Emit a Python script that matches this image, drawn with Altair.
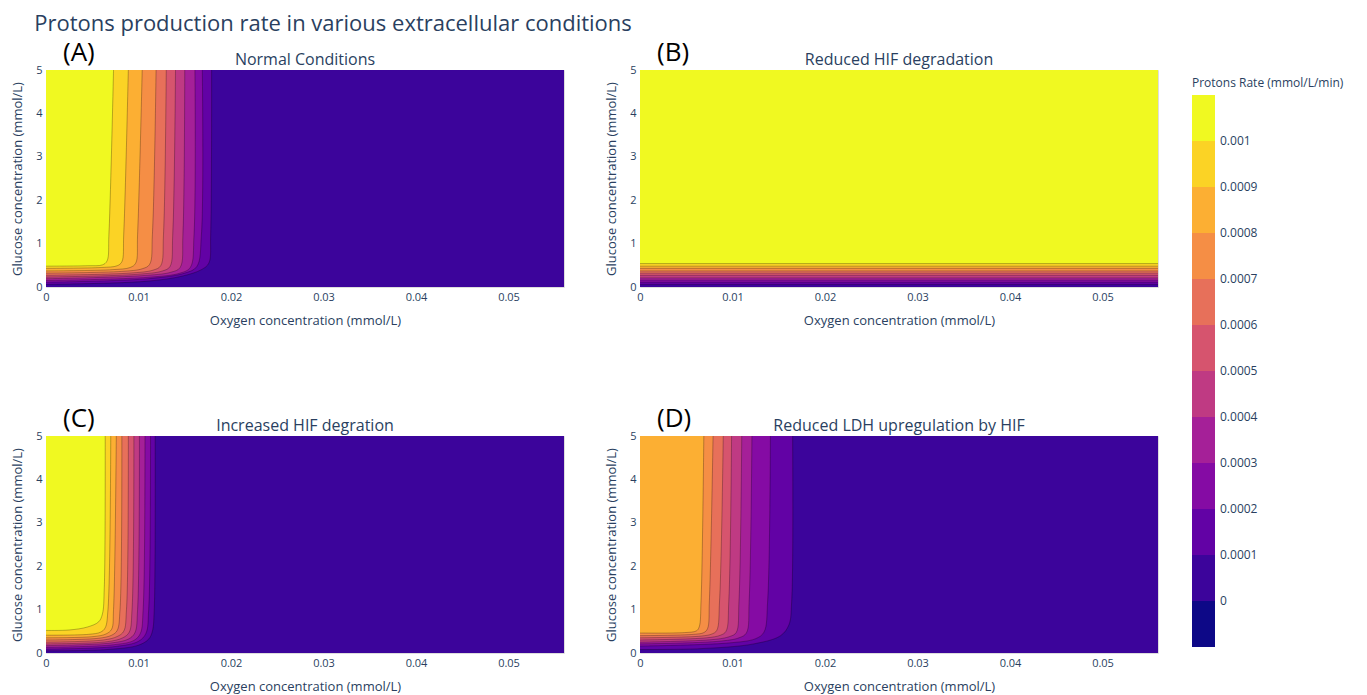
import altair as alt
import pandas as pd

# ---------------- text ----------------
MAIN_TITLE = "Protons production rate in various extracellular conditions"
PANEL_TITLES = ["Normal Conditions", "Reduced HIF degradation",
                "Increased HIF degration", "Reduced LDH upregulation by HIF"]
PANEL_TAGS = ["(A)", "(B)", "(C)", "(D)"]
X_TITLE = "Oxygen concentration (mmol/L)"
Y_TITLE = "Glucose concentration (mmol/L)"
CB_TITLE = "Protons Rate (mmol/L/min)"

# ---------------- axes / levels ----------------
OX_MAX = 0.056
GLC_MAX = 5.0
X_TICKS = [0, 0.01, 0.02, 0.03, 0.04, 0.05]
Y_TICKS = [0, 1, 2, 3, 4, 5]
THRESHOLDS = [0, 0.0001, 0.0002, 0.0003, 0.0004, 0.0005,
              0.0006, 0.0007, 0.0008, 0.0009, 0.001]
LEVELS = THRESHOLDS[1:]
BAND_COLORS = ["#0d0887", "#3c049b", "#6202a5", "#850ba4", "#a52098", "#bf3a83",
               "#d6546e", "#e7705a", "#f58e45", "#fcaf33", "#fbd325", "#f0f921"]

# ---------------- contour lines ----------------
# one list per contour level (0.0001, 0.0002, ...); points run from the left edge up to the top
A_OX = [
    [0, 0.0107, 0.0147, 0.0168, 0.0176, 0.0178, 0.0179],
    [0, 0.0110, 0.0150, 0.0163, 0.0168, 0.0169],
    [0, 0.0108, 0.0145, 0.0156, 0.0160, 0.0161],
    [0, 0.0103, 0.0135, 0.0145, 0.0148, 0.0150],
    [0, 0.0097, 0.0126, 0.0134, 0.0137, 0.0140],
    [0, 0.0090, 0.0116, 0.0124, 0.0127, 0.0130],
    [0, 0.0082, 0.0104, 0.0112, 0.0115, 0.0119],
    [0, 0.0072, 0.0091, 0.0097, 0.0099, 0.0104],
    [0, 0.0060, 0.0077, 0.0082, 0.0084, 0.0089],
    [0, 0.0045, 0.0061, 0.0066, 0.0068, 0.0073],
]
A_GLC = [
    [0.06, 0.13, 0.25, 0.40, 0.55, 1.2, 5],
    [0.11, 0.19, 0.32, 0.47, 1.2, 5],
    [0.15, 0.22, 0.32, 0.45, 1.2, 5],
    [0.19, 0.26, 0.34, 0.45, 1.2, 5],
    [0.23, 0.29, 0.37, 0.47, 1.2, 5],
    [0.27, 0.32, 0.39, 0.49, 1.2, 5],
    [0.32, 0.36, 0.42, 0.52, 1.2, 5],
    [0.37, 0.40, 0.45, 0.55, 1.2, 5],
    [0.43, 0.45, 0.49, 0.58, 1.2, 5],
    [0.48, 0.49, 0.51, 0.60, 1.2, 5],
]

B_GLC = [0.06, 0.11, 0.16, 0.21, 0.27, 0.32, 0.37, 0.43, 0.48, 0.54]

C_OX = [
    [0, 0.0066, 0.0100, 0.0111, 0.0115, 0.0117, 0.0118],
    [0, 0.0075, 0.0100, 0.0108, 0.0111, 0.0113],
    [0, 0.0073, 0.0095, 0.0102, 0.0105, 0.0107],
    [0, 0.0070, 0.0089, 0.0096, 0.0099, 0.0101],
    [0, 0.0066, 0.0083, 0.0090, 0.0093, 0.0095],
    [0, 0.0062, 0.0077, 0.0084, 0.0087, 0.0089],
    [0, 0.0057, 0.0071, 0.0077, 0.0080, 0.0082],
    [0, 0.0052, 0.0065, 0.0071, 0.0073, 0.0076],
    [0, 0.0046, 0.0059, 0.0064, 0.0067, 0.0070],
    [0, 0.0025, 0.0045, 0.0057, 0.0061, 0.0063, 0.0064],
]
C_GLC = [
    [0.05, 0.08, 0.18, 0.32, 0.50, 1.0, 5],
    [0.09, 0.15, 0.27, 0.45, 1.0, 5],
    [0.13, 0.19, 0.29, 0.45, 1.0, 5],
    [0.17, 0.23, 0.32, 0.46, 1.0, 5],
    [0.21, 0.26, 0.35, 0.48, 1.0, 5],
    [0.25, 0.30, 0.38, 0.50, 1.0, 5],
    [0.30, 0.34, 0.41, 0.52, 1.0, 5],
    [0.35, 0.38, 0.44, 0.55, 1.0, 5],
    [0.41, 0.43, 0.48, 0.58, 1.0, 5],
    [0.52, 0.53, 0.60, 0.72, 0.90, 1.5, 5],
]

D_OX = [
    [0, 0.0065, 0.0123, 0.0152, 0.0161, 0.0164, 0.0165],
    [0, 0.0095, 0.0125, 0.0134, 0.0138, 0.0141],
    [0, 0.0085, 0.0107, 0.0115, 0.0118, 0.0121],
    [0, 0.0079, 0.0097, 0.0104, 0.0107, 0.0110],
    [0, 0.0072, 0.0087, 0.0093, 0.0096, 0.0099],
    [0, 0.0066, 0.0078, 0.0083, 0.0086, 0.0090],
    [0, 0.0058, 0.0069, 0.0073, 0.0075, 0.0079],
    [0, 0.0048, 0.0061, 0.0064, 0.0066, 0.0069],
]
D_GLC = [
    [0.08, 0.10, 0.21, 0.40, 0.65, 1.2, 5],
    [0.16, 0.23, 0.33, 0.48, 1.2, 5],
    [0.21, 0.27, 0.35, 0.46, 1.2, 5],
    [0.25, 0.31, 0.38, 0.47, 1.2, 5],
    [0.30, 0.35, 0.41, 0.50, 1.2, 5],
    [0.35, 0.39, 0.44, 0.52, 1.2, 5],
    [0.40, 0.43, 0.47, 0.56, 1.2, 5],
    [0.46, 0.47, 0.51, 0.60, 1.2, 5],
]

# ---------------- styling ----------------
W, H = 518, 217
FONT = "Open Sans"
TXT = "#2a3f5f"

x_axis = alt.Axis(title=X_TITLE, values=X_TICKS, format="~g", grid=False, domain=False,
                  ticks=False, labelFlush=False, labelPadding=4, titlePadding=12,
                  labelFontSize=11, titleFontSize=13, titleFontWeight="normal",
                  labelColor=TXT, titleColor=TXT, labelFont=FONT, titleFont=FONT)
y_axis = alt.Axis(title=Y_TITLE, values=Y_TICKS, format="d", grid=False, domain=False,
                  ticks=False, labelFlush=False, labelPadding=4, titlePadding=11,
                  labelFontSize=11, titleFontSize=13, titleFontWeight="normal",
                  labelColor=TXT, titleColor=TXT, labelFont=FONT, titleFont=FONT)
x_scale = alt.Scale(domain=[0, OX_MAX], nice=False, zero=False)
y_scale = alt.Scale(domain=[0, GLC_MAX], nice=False, zero=False)

color_scale = alt.Scale(type="threshold", domain=THRESHOLDS, range=BAND_COLORS)
legend = alt.Legend(title=CB_TITLE, type="gradient", direction="vertical", orient="none",
                    legendX=1146, legendY=8, gradientLength=552, gradientThickness=23,
                    format="~g", labelOverlap=False, labelFontSize=12, labelColor=TXT,
                    labelFont=FONT, titleFont=FONT, titleFontSize=12,
                    titleFontWeight="normal", titleColor=TXT, titlePadding=5,
                    labelOffset=5, gradientStrokeWidth=0)
COLOR = alt.Color("level:Q", scale=color_scale, legend=legend)
X_ENC = alt.X("ox:Q", scale=x_scale, axis=x_axis)
Y_ENC = alt.Y("glc:Q", scale=y_scale, axis=y_axis, stack=None)

bg_df = pd.DataFrame({"ox": [0.0], "ox2": [OX_MAX], "glc": [0.0], "glc2": [GLC_MAX],
                      "level": [0.0]})


def contour_table(levels, ox_lists, glc_lists):
    rows = []
    for k, (lv, xs, gs) in enumerate(zip(levels, ox_lists, glc_lists)):
        for i, (x, g) in enumerate(zip(xs, gs)):
            rows.append({"k": k, "level": lv, "i": i, "ox": x, "glc": g,
                         "glc2": GLC_MAX})
    return pd.DataFrame(rows)


def text_layers(idx):
    tag = alt.Chart(pd.DataFrame({"t": [PANEL_TAGS[idx]]})).mark_text(
        font=FONT, fontSize=26, color="#000000", align="left", baseline="alphabetic"
    ).encode(text="t:N", x=alt.value(17), y=alt.value(-9))
    sub = alt.Chart(pd.DataFrame({"t": [PANEL_TITLES[idx]]})).mark_text(
        font=FONT, fontSize=16, color=TXT, align="center", baseline="alphabetic"
    ).encode(text="t:N", x=alt.value(W / 2), y=alt.value(-5))
    return [tag, sub]


def contour_panel(idx, levels, ox_lists, glc_lists):
    df = contour_table(levels, ox_lists, glc_lists)
    layers = [alt.Chart(bg_df).mark_rect().encode(
        x=X_ENC, x2="ox2", y=Y_ENC, y2="glc2", color=COLOR)]
    for k in range(len(levels)):
        layers.append(alt.Chart(df).transform_filter(alt.datum.k == k).mark_area(
            interpolate="catmull-rom").encode(
            x=X_ENC, y=Y_ENC, y2="glc2", color=COLOR))
    layers.append(alt.Chart(df).mark_line(
        interpolate="catmull-rom", color="#000000", strokeWidth=0.6, opacity=0.45).encode(
        x=X_ENC, y=Y_ENC, detail="k:N", order="i:Q"))
    layers += text_layers(idx)
    return alt.layer(*layers).properties(width=W, height=H)


def band_panel(idx, levels, glc_list):
    df = pd.DataFrame({"level": levels, "glc": glc_list,
                       "ox": [0.0] * len(levels), "ox2": [OX_MAX] * len(levels),
                       "glc2": [GLC_MAX] * len(levels)})
    layers = [
        alt.Chart(bg_df).mark_rect().encode(x=X_ENC, x2="ox2", y=Y_ENC, y2="glc2", color=COLOR),
        alt.Chart(df).mark_rect().encode(x=X_ENC, x2="ox2", y=Y_ENC, y2="glc2", color=COLOR),
        alt.Chart(df).mark_rule(color="#000000", strokeWidth=0.6, opacity=0.45).encode(
            x=X_ENC, x2="ox2", y=Y_ENC),
    ] + text_layers(idx)
    return alt.layer(*layers).properties(width=W, height=H)


pa = contour_panel(0, LEVELS, A_OX, A_GLC)
pb = band_panel(1, LEVELS, B_GLC)
pc = contour_panel(2, LEVELS, C_OX, C_GLC)
pd_ = contour_panel(3, LEVELS[:8], D_OX, D_GLC)

row1 = alt.hconcat(pa, pb, spacing=40)
row2 = alt.hconcat(pc, pd_, spacing=40)
chart = alt.vconcat(row1, row2, spacing=77).properties(
    title=alt.Title(MAIN_TITLE, anchor="start", dx=23, fontSize=22, font=FONT,
                    fontWeight="normal", color=TXT, offset=4),
    padding={"left": 3, "top": 4, "right": 0, "bottom": 0},
).configure_view(stroke=None).configure(background="white")

chart.save("out.html", embed_options={"renderer": "svg", "actions": False})
